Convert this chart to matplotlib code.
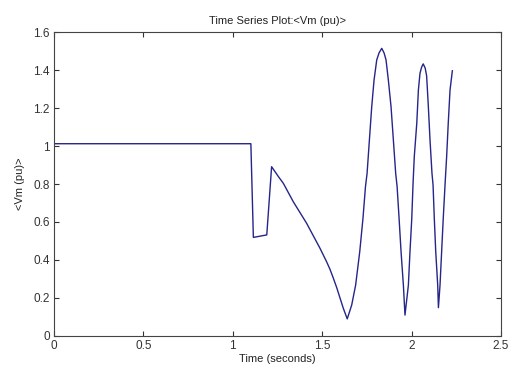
import matplotlib
matplotlib.use("Agg")
import matplotlib.pyplot as plt
from matplotlib.ticker import FuncFormatter

# Data
time_s = [0.0, 1.101, 1.115, 1.190, 1.217, 1.236, 1.255, 1.283, 1.338, 1.413,
          1.488, 1.525, 1.544, 1.562, 1.581, 1.618, 1.640, 1.665, 1.687, 1.710,
          1.728, 1.742, 1.751, 1.764, 1.777, 1.790, 1.805, 1.818, 1.833, 1.846,
          1.857, 1.870, 1.885, 1.898, 1.911, 1.919, 1.930, 1.941, 1.954, 1.963,
          1.982, 1.991, 2.001, 2.008, 2.015, 2.029, 2.038, 2.047, 2.056, 2.065,
          2.076, 2.084, 2.093, 2.103, 2.114, 2.120, 2.127, 2.135, 2.146, 2.150,
          2.159, 2.168, 2.177, 2.187, 2.196, 2.205, 2.215, 2.228]
vm_pu = [1.012, 1.012, 0.519, 0.532, 0.891, 0.865, 0.839, 0.803, 0.707, 0.593,
         0.461, 0.390, 0.350, 0.305, 0.255, 0.146, 0.090, 0.163, 0.268, 0.444,
         0.619, 0.786, 0.856, 1.032, 1.207, 1.347, 1.453, 1.490, 1.514, 1.490,
         1.453, 1.347, 1.207, 1.032, 0.856, 0.786, 0.619, 0.444, 0.268, 0.110,
         0.268, 0.444, 0.619, 0.800, 0.944, 1.120, 1.295, 1.383, 1.415, 1.432,
         1.410, 1.370, 1.220, 1.032, 0.856, 0.795, 0.619, 0.444, 0.268, 0.149,
         0.268, 0.444, 0.619, 0.795, 0.944, 1.120, 1.295, 1.396]

x_ticks = [0, 0.5, 1, 1.5, 2, 2.5]
y_ticks = [0, 0.2, 0.4, 0.6, 0.8, 1, 1.2, 1.4, 1.6]

plt.rcParams['font.family'] = ['Liberation Sans', 'DejaVu Sans']

fig = plt.figure(figsize=(5.12, 3.70), dpi=100)
ax = fig.add_axes([0.1055, 0.0919, 0.873, 0.8216])
ax.plot(time_s, vm_pu, color='#25258a', linewidth=1.0)

ax.set_xlim(0, 2.5)
ax.set_ylim(0, 1.6)
ax.set_xticks(x_ticks)
ax.set_yticks(y_ticks)
fmt = FuncFormatter(lambda v, p: '%g' % v)
ax.xaxis.set_major_formatter(fmt)
ax.yaxis.set_major_formatter(fmt)
ax.tick_params(direction='in', length=3.5, width=0.8, top=True, right=True,
               labelsize=8.5, colors='#333333', pad=3)
for s in ax.spines.values():
    s.set_color('#444444')
    s.set_linewidth(0.8)

ax.set_title('Time Series Plot:<Vm (pu)>', fontsize=8, color='#222222', pad=6)
ax.set_xlabel('Time (seconds)', fontsize=8, color='#222222', labelpad=1)
ax.set_ylabel('<Vm (pu)>', fontsize=8, color='#222222', labelpad=6)

fig.savefig('out.png', dpi=100)
